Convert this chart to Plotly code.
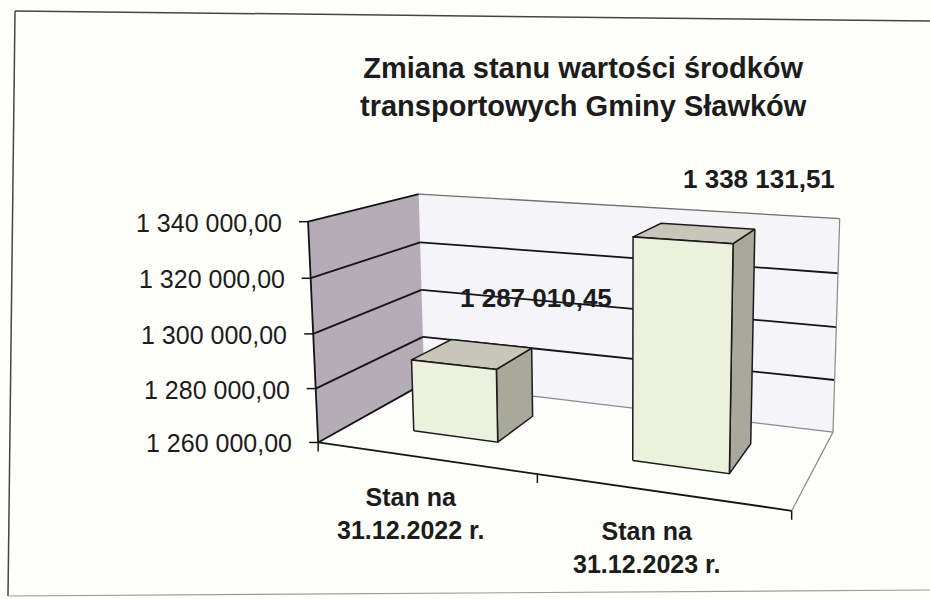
import numpy as np
import plotly.graph_objects as go

# ---------------- data ----------------
categories = ["Stan na<br>31.12.2022 r.", "Stan na<br>31.12.2023 r."]
values = [1287010.45, 1338131.51]
value_labels = ["1 287 010,45", "1 338 131,51"]
tick_values = [1260000, 1280000, 1300000, 1320000, 1340000]
tick_labels = ["1 260 000,00", "1 280 000,00", "1 300 000,00", "1 320 000,00", "1 340 000,00"]
title_lines = ["Zmiana stanu wartości środków", "transportowych Gminy Sławków"]

VMIN, VMAX = tick_values[0], tick_values[-1]

# ---------------- camera fit (layout only) ----------------
# world (u across, d depth, t value-fraction) -> screen pixels
calib_world = [
    (0, 0, 0), (0, 0, 1), (0, 1, 1), (0, 1, 0), (1, 1, 1), (1, 1, 0), (1, 0, 0),
    (0, 0, .25), (0, 0, .5), (0, 0, .75),
    (0, 1, .25), (0, 1, .5), (0, 1, .75),
    (1, 1, .25), (1, 1, .5), (1, 1, .75),
    (.15, .3, 0), (.35, .3, 0), (.65, .3, 0), (.85, .3, 0),
    (.35, .7, 0), (.85, .7, 0),
    (.15, .3, .3376), (.35, .3, .3376), (.15, .7, .3376), (.35, .7, .3376),
    (.65, .3, .9766), (.85, .3, .9766), (.65, .7, .9766), (.85, .7, .9766),
]
calib_px = [
    (318, 443), (307, 222), (422, 193), (422, 388), (843, 218), (828, 428), (785, 510),
    (315, 388), (313, 333), (311, 279),
    (422, 335), (422, 290), (422, 241),
    (832, 378), (836, 327), (839, 273),
    (413, 430), (498, 440), (632, 460), (738, 472),
    (532, 415), (758, 453),
    (413, 360), (498, 368), (453, 340), (532, 348),
    (632, 238), (738, 245), (645, 225), (758, 230),
]
Wd = np.array(calib_world, float)
Ip = np.array(calib_px, float)
mu = Ip.mean(0)
sc = Ip.std()
In = (Ip - mu) / sc
A = []
for (X, Y, Z), (x, y) in zip(Wd, In):
    A.append([X, Y, Z, 1, 0, 0, 0, 0, -x * X, -x * Y, -x * Z, -x])
    A.append([0, 0, 0, 0, X, Y, Z, 1, -y * X, -y * Y, -y * Z, -y])
_, _, Vt = np.linalg.svd(np.array(A))
P = Vt[-1].reshape(3, 4)


def proj(u, d, t):
    h = P @ np.array([u, d, t, 1.0])
    return h[0] / h[2] * sc + mu[0], h[1] / h[2] * sc + mu[1]


def tfrac(v):
    return (v - VMIN) / (VMAX - VMIN)


fig = go.Figure()


def poly(pts, fill, line="#1a1a1a", lw=1.5):
    xy = [proj(*p) for p in pts]
    xs = [a for a, b in xy] + [xy[0][0]]
    ys = [b for a, b in xy] + [xy[0][1]]
    fig.add_trace(go.Scatter(x=xs, y=ys, mode="lines", fill="toself", fillcolor=fill,
                             line=dict(color=line, width=lw), hoverinfo="skip", showlegend=False))


def seg(p0, p1, color="#141414", lw=1.8):
    a, b = proj(*p0), proj(*p1)
    fig.add_trace(go.Scatter(x=[a[0], b[0]], y=[a[1], b[1]], mode="lines",
                             line=dict(color=color, width=lw), hoverinfo="skip", showlegend=False))


def seg_px(a, b, color="#141414", lw=1.5):
    fig.add_trace(go.Scatter(x=[a[0], b[0]], y=[a[1], b[1]], mode="lines",
                             line=dict(color=color, width=lw), hoverinfo="skip", showlegend=False))


# walls and floor
poly([(0, 0, 0), (1, 0, 0), (1, 1, 0), (0, 1, 0)], "#fdfdfb", line="rgba(0,0,0,0)", lw=0)
poly([(0, 1, 0), (1, 1, 0), (1, 1, 1), (0, 1, 1)], "#f5f4f9", line="rgba(0,0,0,0)", lw=0)
poly([(0, 0, 0), (0, 1, 0), (0, 1, 1), (0, 0, 1)], "#b5acb8", line="rgba(0,0,0,0)", lw=0)

# grid lines
for tv in tick_values:
    t = tfrac(tv)
    seg((0, 0, t), (0, 1, t))
    if 0 < t < 1:
        seg((0, 1, t), (1, 1, t))
# gray outlines of back wall and floor
seg((0, 1, 1), (1, 1, 1), color="#6e6e6e", lw=1.3)
seg((1, 1, 0), (1, 1, 1), color="#8a8a8a", lw=1.2)
seg((0, 1, 0), (1, 1, 0), color="#8a8a8a", lw=1.2)
seg((1, 0, 0), (1, 1, 0), color="#8a8a8a", lw=1.2)
# axes
seg((0, 0, 0), (0, 0, 1))
seg((0, 0, 0), (1, 0, 0))
# value ticks
for tv in tick_values:
    x, y = proj(0, 0, tfrac(tv))
    seg_px((x - 9, y), (x, y))
# category ticks
n = len(categories)
for k in range(n + 1):
    x, y = proj(k / n, 0, 0)
    seg_px((x, y), (x, y + 9))

# bars
GAP = 1.5
half_w = 0.5 / n / (1 + GAP)
d0, d1 = 0.3, 0.7
for i, v in enumerate(values):
    uc = (i + 0.5) / n
    u0, u1 = uc - half_w, uc + half_w
    t = tfrac(v)
    poly([(u1, d0, 0), (u1, d1, 0), (u1, d1, t), (u1, d0, t)], "#a9a99b")
    poly([(u0, d0, t), (u1, d0, t), (u1, d1, t), (u0, d1, t)], "#c8c6b8")
    poly([(u0, d0, 0), (u1, d0, 0), (u1, d0, t), (u0, d0, t)], "#ebf1dc")

FONT = "Liberation Sans, Arial, sans-serif"
TXT = "#1c1c1c"
ann = []
# data labels: above the back-right top corner of each bar
for i, v in enumerate(values):
    uc = (i + 0.5) / n
    x, y = proj(uc + half_w, d1, tfrac(v))
    ann.append(dict(x=x + 4, y=y - 50, text="<b>%s</b>" % value_labels[i], showarrow=False,
                    xanchor="center", yanchor="middle", font=dict(family=FONT, size=26, color=TXT)))
# value tick labels
for tv, tl in zip(tick_values, tick_labels):
    x, y = proj(0, 0, tfrac(tv))
    ann.append(dict(x=x - 24, y=y + 1, text=tl, showarrow=False, xanchor="right", yanchor="middle",
                    font=dict(family=FONT, size=25, color=TXT)))
# category labels
for i, c in enumerate(categories):
    x, y = proj((i + 0.5) / n, 0, 0)
    ann.append(dict(x=x - 13, y=y + 56, text="<b>%s</b>" % c.replace("<br>", "</b><br><b>"),
                    showarrow=False, xanchor="center", yanchor="middle", align="center",
                    font=dict(family=FONT, size=25, color=TXT)))
# title
ann.append(dict(x=583, y=87, text="<b>%s</b>" % "</b><br><b>".join(title_lines), showarrow=False,
                xanchor="center", yanchor="middle", align="center",
                font=dict(family=FONT, size=29, color=TXT)))

border = dict(type="line", xref="x", yref="y", line=dict(color="#444444", width=1.5), layer="below")
fig.update_layout(
    width=930, height=599, margin=dict(l=0, r=0, t=0, b=0),
    paper_bgcolor="#fefefb", plot_bgcolor="#fefefb",
    xaxis=dict(range=[0, 930], visible=False, fixedrange=True),
    yaxis=dict(range=[599, 0], visible=False, fixedrange=True),
    annotations=ann,
    shapes=[
        dict(border, x0=15, y0=11, x1=930, y1=21),
        dict(border, x0=15, y0=11, x1=8, y1=596),
        dict(border, x0=8, y0=596, x1=930, y1=590, line=dict(color="#9a9a9a", width=1.2)),
    ],
)
fig.write_html("out.html", config={"displayModeBar": False},
               post_script="document.body.style.margin='0';document.body.style.overflow='hidden';")
